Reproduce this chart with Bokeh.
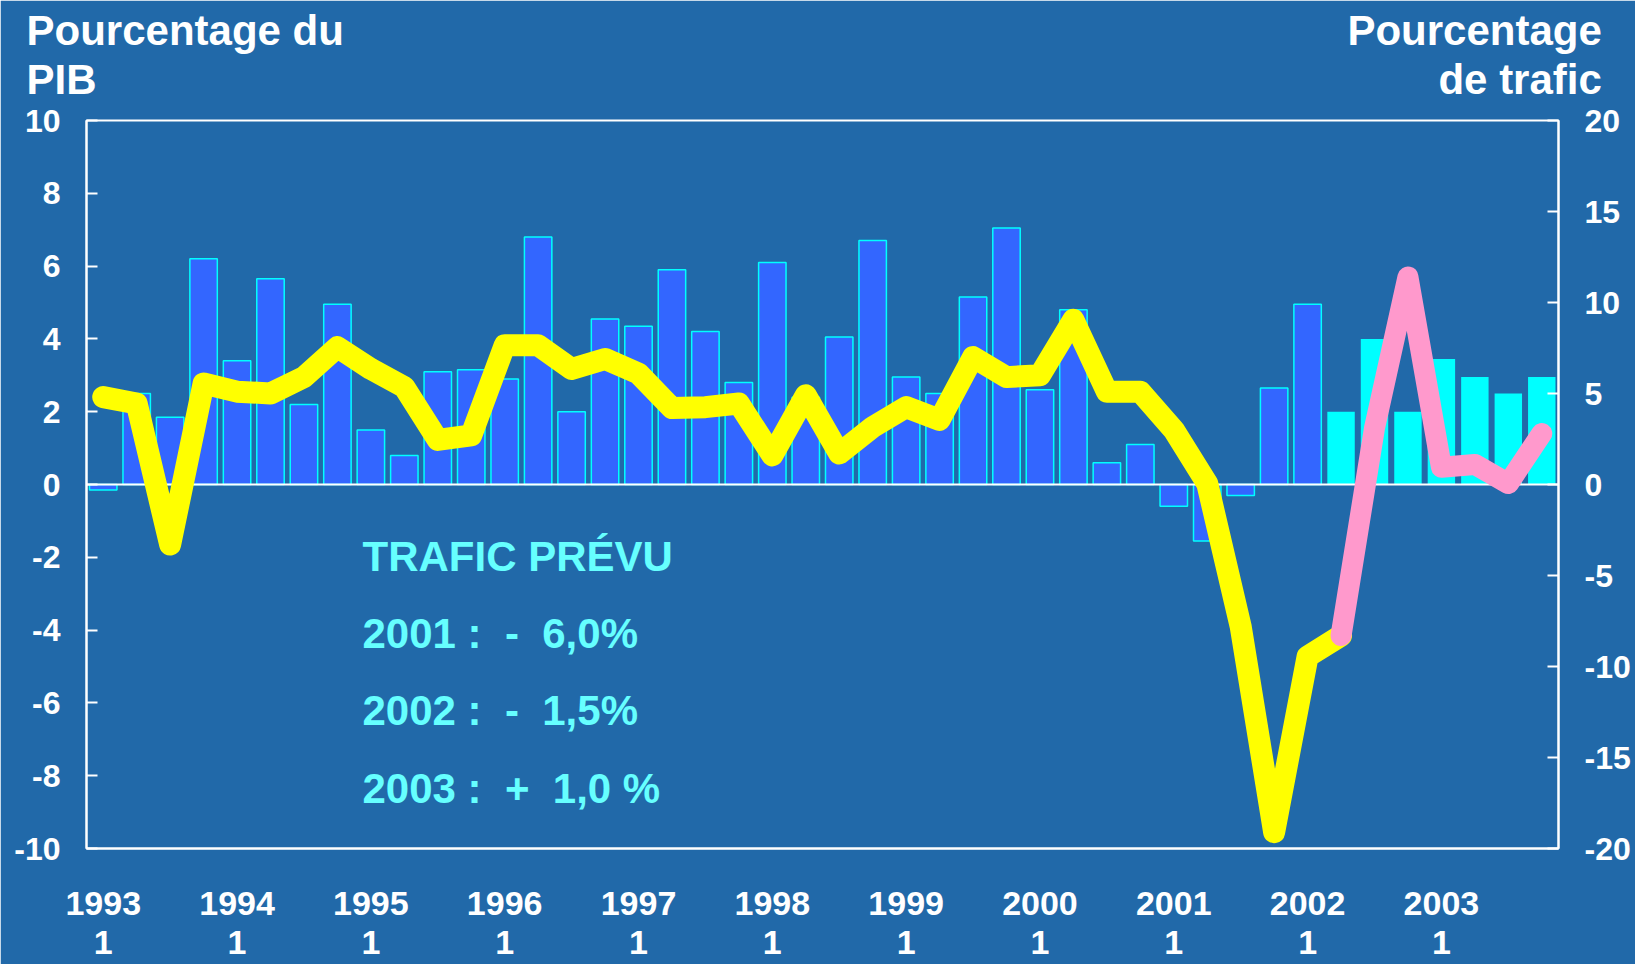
from bokeh.plotting import figure
from bokeh.models import Range1d, LinearAxis, FixedTicker, Label, Title
from bokeh.embed import file_html
from bokeh.resources import INLINE

# ---------------- data ----------------
years = ["1993", "1994", "1995", "1996", "1997", "1998",
         "1999", "2000", "2001", "2002", "2003"]
quarter_label = "1"

# GDP growth (left axis, % of GDP), quarterly 1993Q1 .. 2003Q4
gdp = [-0.15, 2.5, 1.85, 6.2, 3.4, 5.65, 2.2, 4.95,
       1.5, 0.8, 3.1, 3.15, 2.9, 6.8, 2.0, 4.55,
       4.35, 5.9, 4.2, 2.8, 6.1, 2.4, 4.05, 6.7,
       2.95, 2.5, 5.15, 7.05, 2.6, 4.8, 0.6, 1.1,
       -0.6, -1.55, -0.3, 2.65, 4.95, 2.0, 4.0, 2.0,
       3.45, 2.95, 2.5, 2.95]

# Traffic growth (right axis, %), quarterly 1993Q1 .. 2003Q4
traffic = [4.8, 4.45, -3.3, 5.55, 5.1, 5.0, 5.9, 7.55,
           6.35, 5.35, 2.45, 2.7, 7.65, 7.65, 6.35, 6.9,
           6.1, 4.2, 4.25, 4.45, 1.6, 4.9, 1.7, 3.15,
           4.25, 3.55, 7.0, 5.9, 6.0, 9.05, 5.1, 5.1,
           3.0, 0.05, -7.8, -19.1, -9.45, -8.3, 3.1, 11.4,
           0.95, 1.1, 0.05, 2.8]

first_forecast = 37          # 2002Q2 onwards is forecast
left_ticks = list(range(-10, 11, 2))
right_ticks = list(range(-20, 21, 5))

NB = "\u00a0"
note_title = "TRAFIC PRÉVU"
note_lines = ["2001" + NB + ":" + NB * 2 + "-" + NB * 2 + "6,0%",
              "2002" + NB + ":" + NB * 2 + "-" + NB * 2 + "1,5%",
              "2003" + NB + ":" + NB * 2 + "+" + NB * 2 + "1,0" + NB + "%"]
left_title = ["Pourcentage du", "PIB"]
right_title = ["Pourcentage", "de trafic"]
title_pad = [86, 115]        # non-breaking spaces between left and right title

# ---------------- styling ----------------
BG = "#2169A9"
FONT = "Liberation Sans"
n = len(gdp)
xs = [i + 0.5 for i in range(n)]
year_ticks = [xs[4 * k] for k in range(len(years))]

p = figure(width=1635, height=964, output_backend="svg", toolbar_location=None,
           x_range=Range1d(0, n), y_range=Range1d(-10, 10),
           min_border_left=86, min_border_right=77,
           min_border_top=120, min_border_bottom=116,
           background_fill_color=BG, border_fill_color=BG,
           outline_line_color="white", outline_line_width=2)
p.extra_y_ranges = {"traffic": Range1d(-20, 20)}
p.grid.visible = False


def style_axis(ax, size):
    ax.axis_line_color = "white"
    ax.axis_line_width = 2
    ax.major_tick_line_color = "white"
    ax.major_tick_line_width = 2
    ax.minor_tick_line_color = None
    ax.major_label_text_color = "white"
    ax.major_label_text_font = FONT
    ax.major_label_text_font_style = "bold"
    ax.major_label_text_font_size = size


# left axis
ly = p.yaxis[0]
ly.ticker = FixedTicker(ticks=left_ticks)
ly.major_label_overrides = {t: str(t) for t in left_ticks}
style_axis(ly, "32px")
ly.major_tick_in = 11
ly.major_tick_out = 0
ly.major_label_standoff = 26

# right axis
ry = LinearAxis(y_range_name="traffic", ticker=FixedTicker(ticks=right_ticks))
ry.major_label_overrides = {t: str(t) for t in right_ticks}
style_axis(ry, "32px")
ry.major_tick_in = 11
ry.major_tick_out = 0
ry.major_label_standoff = 26
p.add_layout(ry, "right")

# bottom axis: year with quarter number underneath
bx = p.xaxis[0]
bx.ticker = FixedTicker(ticks=year_ticks)
bx.major_label_overrides = {t: y + "\n" + quarter_label for t, y in zip(year_ticks, years)}
style_axis(bx, "34px")
bx.major_label_text_line_height = 1.03
bx.major_tick_in = 0
bx.major_tick_out = 0
bx.major_label_standoff = 35

# bars
p.vbar(x=xs[:first_forecast], top=gdp[:first_forecast], bottom=0, width=0.82,
       fill_color="#3366FF", line_color="#00FFFF", line_width=1.5)
p.vbar(x=xs[first_forecast:], top=gdp[first_forecast:], bottom=0, width=0.82,
       fill_color="#00FFFF", line_color=None)

# zero line
p.hspan(y=[0], line_color="white", line_width=2)

# traffic lines
p.line(xs[:first_forecast + 1], traffic[:first_forecast + 1], y_range_name="traffic",
       line_color="#FFFF00", line_width=22, line_join="round", line_cap="round")
p.line(xs[first_forecast:], traffic[first_forecast:], y_range_name="traffic",
       line_color="#FF99CC", line_width=21, line_join="round", line_cap="round")

# note inside the plot
note_y = [-1.97, -4.09, -6.2, -8.34]
for txt, yy in zip([note_title] + note_lines, note_y):
    p.add_layout(Label(x=8.25, y=yy, text=txt, text_align="left",
                       text_baseline="middle", text_color="#66FFFF",
                       text_font=FONT, text_font_style="bold",
                       text_font_size="42px"))

# axis titles: one row per line, left title and right title on the same row
p.title.visible = False
spacer = Title(text=NB, text_font_size="1px", standoff=15, align="left")
p.add_layout(spacer, "above")
for i in (1, 0):
    row = left_title[i] + NB * title_pad[i] + right_title[i]
    p.add_layout(Title(text=row, align="left", offset=-60, standoff=0,
                       text_color="white", text_font=FONT,
                       text_font_style="bold", text_font_size="42px"), "above")

open("out.html", "w").write(file_html(p, INLINE))
